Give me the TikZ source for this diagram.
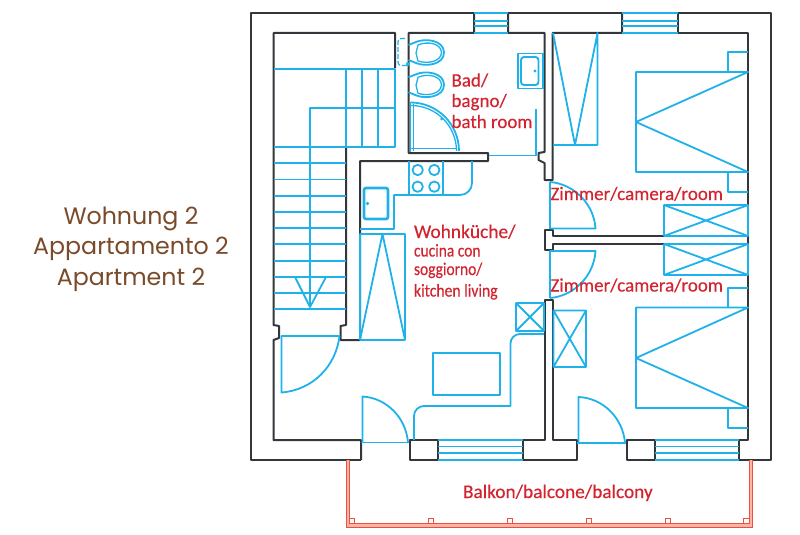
\documentclass[tikz,border=0pt]{standalone}
\usepackage{fontspec}
\setmainfont[FakeBold=0.35]{Carlito}
\newfontfamily\titlefont{Poppins}
\definecolor{wallc}{HTML}{33363A}
\definecolor{fixc}{HTML}{1FB2EA}
\definecolor{labelc}{HTML}{D2232E}
\definecolor{balc}{HTML}{EE4F3E}
\definecolor{balb}{HTML}{FAB5A8}
\definecolor{titlec}{HTML}{7A4B2A}
\tikzset{
  wall/.style={draw=wallc,line width=2pt,line join=round},
  fix/.style={draw=fixc,line width=1.8pt,line join=round},
  fixthin/.style={draw=fixc,line width=1.3pt,line join=round},
  rail/.style={draw=balc,line width=1pt},
  band/.style={draw=balb,line width=4pt},
  lab/.style={text=labelc,anchor=base west,inner sep=0pt,outer sep=0pt},
  ttl/.style={text=titlec,inner sep=0pt,anchor=base,font=\titlefont\fontsize{23.7}{26}\selectfont}
}
\begin{document}
\begin{tikzpicture}[x=1pt,y=-1pt]
\useasboundingbox (0,0) rectangle (800,535);
% walls
\draw[wall] (361,460)--(251,460)--(251,13)--(474,13);
\draw[wall] (508,13)--(622,13);
\draw[wall] (678,13)--(771,13)--(771,460)--(739,460)--(739,440)--(748,440)--(748,33)--(678,33)--(678,13);
\draw[wall] (622,13)--(622,33)--(552.5,33)--(552.5,180)--(544.5,180)--(544.5,163)--(538.5,160)--(538.5,153)--(544.5,152)--(544.5,33)--(508,33)--(508,13);
\draw[wall] (474,13)--(474,33)--(408.5,33)--(408.5,153)--(488,153)--(488,161)--(360,161)--(360,340)--(340.5,340)--(340.5,326)--(346,325)--(346,147);
\draw[wall] (395,68)--(395,33)--(273.5,33)--(273.5,325)--(279,326)--(279,338)--(273.5,340)--(273.5,440)--(361,440)--(361,460);
\draw[wall] (748,236)--(553,236)--(553,230)--(544.5,230)--(544.5,250)--(553,250)--(553,244)--(748,244);
\draw[wall] (552.5,440)--(552.5,300)--(544.5,300)--(544.5,440)--(522.5,440)--(522.5,460)--(577,460)--(577,440)--cycle;
\draw[wall] (410,440) rectangle (438,460);
\draw[wall] (626.5,440) rectangle (654.5,460);
% windows
\foreach \y in {13,21,26,33} \draw[fix] (474,\y)--(508,\y);
\foreach \y in {13,21,26,33} \draw[fix] (622,\y)--(678,\y);
\foreach \y in {440,446.5,453,460} \draw[fix] (438,\y)--(522.5,\y);
\foreach \y in {440,446.5,453,460} \draw[fix] (654.5,\y)--(739,\y);
% stairs
\draw[fix] (274,69)--(395,69)--(395,147)--(274,147);
\draw[fix] (346,69)--(346,147) (362,69)--(362,147) (378,69)--(378,147);
\draw[fix] (395,108)--(310,108)--(310,307);
\foreach \y in {163,179.5,196,212,228,244,261,277,293,309} \draw[fix] (274,\y)--(346,\y);
\draw[fix] (295,277)--(310,307)--(326,277);
% doors
\draw[fix] (339.5,336)--(281.5,336)--(281.5,392.5) .. controls (313,390) and (336,366) .. (339.5,336);
\draw[fix] (361,442.5)--(409,442.5);
\draw[fix] (362.5,442.5)--(362.5,396.5) .. controls (387,398) and (406,418) .. (408,442.5);
\draw[fix] (577,443)--(626,443);
\draw[fix] (578.5,443)--(578.5,397) .. controls (603,398) and (623,418) .. (625,443);
\draw[fix] (550,182)--(550,228.5)--(595.5,228.5) .. controls (594,204) and (574,184) .. (550,182);
\draw[fix] (550,298)--(550,251)--(595.5,251) .. controls (594,276) and (574,296) .. (550,298);
% wardrobes and beds
\draw[fix] (553,145)--(597.5,145)--(597.5,33)--(575,145)--(553,33);
\draw[fix] (636,72)--(748,72)--(636,122)--(748,172)--(636,172)--cycle;
\draw[fix] (748,52)--(728,52)--(728,72) (728,172)--(728,192)--(748,192);
\draw[fix] (636,307.5)--(748,307.5)--(636,358)--(748,408)--(636,408)--cycle;
\draw[fix] (748,288)--(728,288)--(728,307.5) (728,408)--(728,428)--(748,428);
\draw[fix] (664,205) rectangle (748,236) (664,205)--(748,236) (664,236)--(748,205);
\draw[fix] (664,244) rectangle (748,275) (664,244)--(748,275) (664,275)--(748,244);
\draw[fix] (553.5,310.5) rectangle (586,367) (553.5,310.5)--(586,367) (553.5,367)--(586,310.5);
% kitchen
\draw[fix] (409,161)--(409,195) (443,161)--(443,195);
\draw[fix] (360,229)--(394,229)--(394,195)--(460,195) arc[start angle=90,end angle=0,radius=12] --(472,161);
\foreach \a/\b in {417.7/170,434.3/170,417.7/186.7,434.3/186.7} \draw[fix] (\a,\b) circle[radius=5.2];
\draw[draw=fixc,line width=2.6pt,rounded corners=2pt] (364,188) rectangle (388,219);
\fill[fixc] (367.5,203.5) circle[radius=1.8];
\draw[fix] (360,234) rectangle (405,340) (360,340)--(382.5,234)--(405,340);
\draw[fix] (516,303) rectangle (544,331) (516,303)--(544,331) (516,331)--(544,303);
\draw[fix] (544,334)--(520,334) arc[start angle=-90,end angle=-180,radius=9.5] --(510.5,406)--(424,406) arc[start angle=-90,end angle=-180,radius=10] --(414,440);
\draw[fix] (433,353) rectangle (500,395);
% bath
\foreach \d in {0,32.3}{
  \draw[fix,shift={(0,\d)}] (408.5,45)--(416,42) .. controls (425,38) and (444,40) .. (444,52.5) .. controls (444,65) and (425,67) .. (416,63)--(408.5,60);
  \draw[fixthin,shift={(0,\d)}] (416,53)--(418,45) .. controls (427,41) and (441,43) .. (441.5,52.5) .. controls (441,62) and (427,64) .. (418,61)--cycle;
}
\draw[draw=fixc,line width=1.2pt,dash pattern=on 5pt off 2pt,rounded corners=3pt] (405,38.5)--(398,38.5)--(398,65.5)--(407,65.5);
\fill[fixc] (408,64) circle[radius=2];
\draw[fix] (410.5,102.5) arc[start angle=-90,end angle=0,radius=48.5];
\draw[fixthin] (411,105.5) arc[start angle=-90,end angle=0,radius=45.5];
\draw[fixthin] (410.5,102)--(410.5,152) (413.5,104)--(413.5,151) (410.5,148.5)--(457,148.5);
\fill[fixc] (441.5,119) circle[radius=1.5];
\draw[fixthin] (518,53.5) rectangle (543,88.5);
\draw[draw=fixc,line width=1.9pt,rounded corners=3pt] (521,57) rectangle (538.5,85);
\fill[fixc] (535,71) circle[radius=1.6];
\draw[fix] (489,155.5)--(537,155.5) (536,155.5)--(536,109);
% balcony
\draw[band] (347.7,460)--(347.7,525.4)--(750.7,525.4)--(750.7,460);
\draw[rail] (346,460)--(346,527.2)--(752.5,527.2)--(752.5,460);
\draw[rail] (349.5,460)--(349.5,523.6)--(749,523.6)--(749,460);
\foreach \a in {352,430.7,510,588.7,667.7,746.5} \draw[rail] (\a-2.6,523.6)--(\a-2.6,518.5)--(\a+2.6,518.5)--(\a+2.6,523.6);
% labels
\node[ttl] (t1) at (131,224) {Wohnung 2};
\node[ttl] (t2) at (131,254) {Appartamento 2};
\node[ttl] (t3) at (131,285) {Apartment 2};
\node[lab,font=\fontsize{19}{20}\selectfont] (bad1) at (451.5,86.5) {Bad/};
\node[lab,font=\fontsize{19}{20}\selectfont] (bad2) at (451.5,107) {bagno/};
\node[lab,font=\fontsize{19}{20}\selectfont] (bad3) at (451.5,128) {bath room};
\node[lab,font=\fontsize{19}{20}\selectfont] (z1) at (550.5,200) {Zimmer/camera/room};
\node[lab,font=\fontsize{19}{20}\selectfont] (z2) at (550.5,291.5) {Zimmer/camera/room};
\node[lab,font=\fontsize{19.4}{20}\selectfont] (w1) at (414,238) {Wohnküche/};
\node[lab,font=\fontsize{18}{20}\selectfont] (w2) at (414,256.5) {\scalebox{0.86}[1]{cucina con}};
\node[lab,font=\fontsize{18}{20}\selectfont] (w3) at (414,275) {\scalebox{0.86}[1]{soggiorno/}};
\node[lab,font=\fontsize{18}{20}\selectfont] (w4) at (414,296.5) {\scalebox{0.87}[1]{kitchen living}};
\node[lab,font=\fontsize{19.3}{20}\selectfont] (balk) at (463,498) {Balkon/balcone/balcony};
\end{tikzpicture}
\end{document}
